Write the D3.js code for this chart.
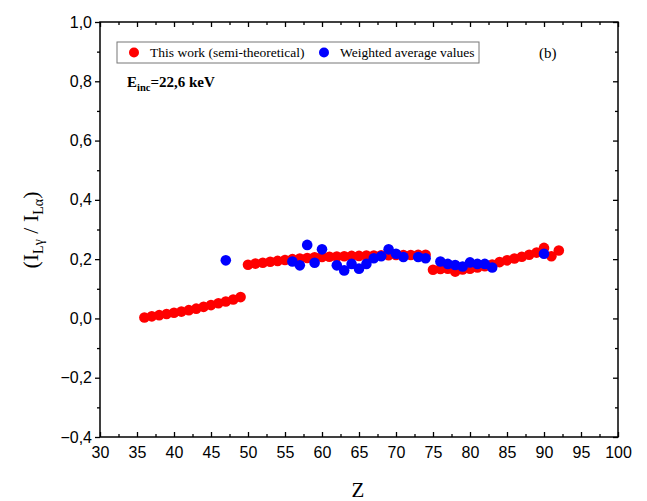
<!DOCTYPE html>
<html>
<head>
<meta charset="utf-8">
<script src="https://cdn.jsdelivr.net/npm/d3@7"></script>
<style>
  body { margin: 0; background: #fff; }
  .tick text { font-family: Arial, "Liberation Sans", sans-serif; font-size: 16px; fill: #000; }
  .serif { font-family: "Times New Roman", "Liberation Serif", serif; }
</style>
</head>
<body>
<div id="chart"></div>
<script>
// This work (semi-theoretical)
const redZ = [36, 37, 38, 39, 40, 41, 42, 43, 44, 45, 46, 47, 48, 49,
  50, 51, 52, 53, 54, 55, 56, 57, 58, 59, 60, 61, 62, 63, 64, 65, 66, 67, 68, 69, 70, 71, 72, 73, 74,
  75, 76, 77, 78, 79, 80, 81, 82, 83, 84, 85, 86, 87, 88, 89, 90, 91, 92];
const redVal = [0.003, 0.007, 0.011, 0.015, 0.019, 0.023, 0.028, 0.033, 0.039, 0.045, 0.051, 0.057, 0.064, 0.072,
  0.181, 0.185, 0.188, 0.191, 0.194, 0.197, 0.200, 0.202, 0.204, 0.206, 0.207, 0.208, 0.209, 0.210, 0.211, 0.211, 0.212, 0.212, 0.213, 0.213, 0.214, 0.214, 0.214, 0.215, 0.215,
  0.164, 0.167, 0.168, 0.158, 0.165, 0.168, 0.172, 0.176, 0.182, 0.190, 0.196, 0.202, 0.208, 0.215, 0.222, 0.238, 0.210, 0.229];

// Weighted average values
const blueZ = [47, 56, 57, 58, 59, 60, 62, 63, 64, 65, 66, 67, 68, 69, 70, 71, 73, 74, 76, 77, 78, 79, 80, 81, 82, 83, 90];
const blueVal = [0.196, 0.192, 0.179, 0.248, 0.188, 0.233, 0.179, 0.162, 0.184, 0.168, 0.184, 0.203, 0.210, 0.233, 0.218, 0.207, 0.207, 0.203,
  0.192, 0.184, 0.180, 0.175, 0.189, 0.184, 0.184, 0.172, 0.218];

const xTicks = d3.range(30, 101, 5);
const yTicks = [-0.4, -0.2, 0, 0.2, 0.4, 0.6, 0.8, 1.0];

const W = 647, H = 501;
const margin = { top: 22, right: 29, bottom: 64, left: 100 };
const width = W - margin.left - margin.right;
const height = H - margin.top - margin.bottom;

const svg = d3.select('#chart').append('svg')
  .attr('width', W)
  .attr('height', H);

const g = svg.append('g')
  .attr('transform', `translate(${margin.left},${margin.top})`);

const x = d3.scaleLinear().domain([30, 100]).range([0, width]);
const y = d3.scaleLinear().domain([-0.4, 1.0]).range([height, 0]);

const fmt = d => d3.format('.1f')(d).replace('.', ',').replace('-', '\u2212');

// minor ticks
const xMinor = d3.range(32.5, 100, 5);
const yMinor = d3.range(-0.3, 1.0, 0.2);

// bottom axis, ticks inward
g.append('g')
  .attr('transform', `translate(0,${height})`)
  .call(d3.axisBottom(x).tickValues(xTicks).tickSize(-5).tickPadding(10).tickFormat(d3.format('d')))
  .call(a => a.select('.domain').remove());
g.append('g')
  .attr('transform', `translate(0,${height})`)
  .call(d3.axisBottom(x).tickValues(xMinor).tickSize(-3).tickFormat(''))
  .call(a => a.select('.domain').remove());

// top axis, ticks inward
g.append('g')
  .call(d3.axisTop(x).tickValues(xTicks).tickSize(-5).tickFormat(''))
  .call(a => a.select('.domain').remove());
g.append('g')
  .call(d3.axisTop(x).tickValues(xMinor).tickSize(-3).tickFormat(''))
  .call(a => a.select('.domain').remove());

// left axis, ticks outward
g.append('g')
  .call(d3.axisLeft(y).tickValues(yTicks).tickSize(5).tickPadding(3).tickFormat(fmt))
  .call(a => a.select('.domain').remove());
g.append('g')
  .call(d3.axisLeft(y).tickValues(yMinor).tickSize(3).tickFormat(''))
  .call(a => a.select('.domain').remove());

// right axis, ticks inward
g.append('g')
  .attr('transform', `translate(${width},0)`)
  .call(d3.axisRight(y).tickValues(yTicks).tickSize(-5).tickFormat(''))
  .call(a => a.select('.domain').remove());
g.append('g')
  .attr('transform', `translate(${width},0)`)
  .call(d3.axisRight(y).tickValues(yMinor).tickSize(-3).tickFormat(''))
  .call(a => a.select('.domain').remove());

g.selectAll('.tick line').attr('stroke', '#000').attr('stroke-width', 1.3);

// frame
g.append('rect')
  .attr('width', width)
  .attr('height', height)
  .attr('fill', 'none')
  .attr('stroke', '#000')
  .attr('stroke-width', 1.5);

// points
const redData = redZ.map((z, i) => ({ z: z, v: redVal[i] }));
const blueData = blueZ.map((z, i) => ({ z: z, v: blueVal[i] }));

g.selectAll('circle.red')
  .data(redData)
  .enter().append('circle')
  .attr('class', 'red')
  .attr('cx', d => x(d.z))
  .attr('cy', d => y(d.v))
  .attr('r', 5.3)
  .attr('fill', '#ff0000');

g.selectAll('circle.blue')
  .data(blueData)
  .enter().append('circle')
  .attr('class', 'blue')
  .attr('cx', d => x(d.z))
  .attr('cy', d => y(d.v))
  .attr('r', 5.3)
  .attr('fill', '#0000ff');

// legend
const legend = svg.append('g').attr('class', 'serif');
legend.append('rect')
  .attr('x', 117).attr('y', 42)
  .attr('width', 362).attr('height', 21)
  .attr('fill', '#fff')
  .attr('stroke', '#777')
  .attr('stroke-width', 1);
legend.append('circle').attr('cx', 134).attr('cy', 52.5).attr('r', 5).attr('fill', '#ff0000');
legend.append('text').attr('x', 150).attr('y', 57).attr('font-size', 13.5).text('This work (semi-theoretical)');
legend.append('circle').attr('cx', 324).attr('cy', 52.5).attr('r', 5).attr('fill', '#0000ff');
legend.append('text').attr('x', 340).attr('y', 57).attr('font-size', 13.5).text('Weighted average values');

// annotation
const ann = svg.append('text').attr('class', 'serif')
  .attr('x', 127).attr('y', 87)
  .attr('font-size', 15).attr('font-weight', 'bold');
ann.append('tspan').text('E');
ann.append('tspan').attr('font-size', 10.5).attr('dy', 4).text('inc');
ann.append('tspan').attr('dy', -4).text('=22,6 keV');

svg.append('text').attr('class', 'serif')
  .attr('x', 539).attr('y', 58)
  .attr('font-size', 15)
  .text('(b)');

// axis titles
svg.append('text').attr('class', 'serif')
  .attr('x', 358).attr('y', 497)
  .attr('text-anchor', 'middle')
  .attr('font-size', 21)
  .text('Z');

const yl = svg.append('text').attr('class', 'serif')
  .attr('transform', 'translate(38,230) rotate(-90)')
  .attr('text-anchor', 'middle')
  .attr('font-size', 22);
yl.append('tspan').text('(I');
yl.append('tspan').attr('font-size', 14).attr('dy', 5).text('L\u03B3');
yl.append('tspan').attr('dy', -5).text(' / I');
yl.append('tspan').attr('font-size', 14).attr('dy', 5).text('L\u03B1');
yl.append('tspan').attr('dy', -5).text(')');
</script>
</body>
</html>
